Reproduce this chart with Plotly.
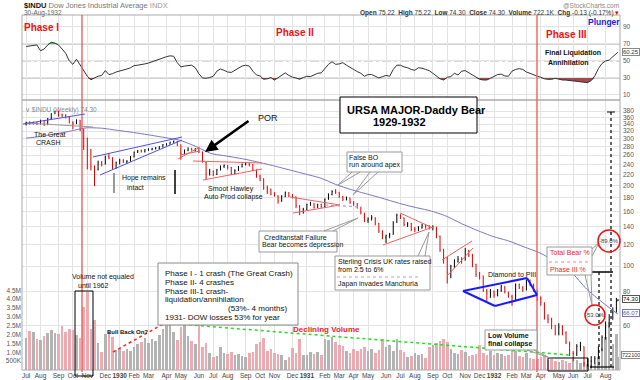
import math
import pandas as pd
import plotly.graph_objects as go

FONT = "Liberation Sans, Arial, sans-serif"
W, H = 640, 380

# ---------------- data ----------------
week_ends = list(pd.date_range("1929-07-06", "1932-08-27", freq="W-SAT")) + [pd.Timestamp("1932-08-30")]

close_1929 = [344, 342, 344, 341, 350, 338, 356, 372, 380, 370, 367, 360, 344, 341, 352, 323, 301, 273, 236, 229,
              245, 241, 257, 254, 232, 244]
high_1929 = [347, 348, 347, 346, 353, 352, 358, 373, 381, 381, 372, 370, 361, 348, 354, 352, 327, 302, 274, 238,
             248, 247, 259, 263, 255, 246]
low_1929 = [336, 338, 339, 337, 339, 335, 338, 355, 370, 362, 361, 357, 342, 325, 340, 320, 272, 230, 228, 199,
            228, 236, 240, 251, 230, 231]

close_1930 = [249, 245, 247, 256, 267, 270, 268, 272, 273, 275, 276, 279, 285, 286, 291, 293, 284, 263, 271, 275,
              272, 275, 267, 245, 222, 226, 220, 229, 236, 238, 234, 222, 228, 235, 240, 241, 240, 229, 216, 212,
              196, 193, 186, 183, 175, 182, 188, 183, 182, 168, 160, 163]
high_1930 = [252, 251, 249, 258, 268, 272, 273, 274, 276, 277, 279, 281, 286, 288, 292, 295, 294, 285, 273, 278,
             277, 276, 276, 268, 246, 231, 228, 231, 238, 240, 239, 235, 230, 237, 242, 245, 244, 241, 230, 220,
             213, 200, 195, 189, 184, 184, 190, 189, 186, 182, 169, 165]
low_1930 = [240, 243, 242, 246, 255, 265, 266, 266, 270, 271, 273, 274, 278, 282, 285, 289, 281, 250, 262, 269,
            270, 268, 265, 244, 211, 218, 217, 219, 228, 233, 230, 219, 220, 227, 234, 238, 236, 227, 214, 208,
            193, 186, 184, 182, 171, 174, 181, 181, 179, 165, 155, 157]

close_1931 = [170, 172, 166, 170, 167, 178, 185, 190, 189, 182, 178, 180, 173, 171, 166, 158, 148, 150, 152, 144,
              135, 128, 130, 131, 146, 155, 152, 143, 144, 137, 137, 139, 142, 140, 139, 140, 129, 115, 107, 92,
              100, 104, 106, 105, 114, 110, 101, 93, 92, 81, 79, 80]
high_1931 = [171, 174, 172, 171, 171, 179, 187, 192, 194, 189, 183, 182, 180, 175, 172, 166, 158, 152, 155, 152,
             145, 136, 131, 133, 147, 157, 156, 152, 146, 145, 140, 141, 144, 143, 142, 142, 140, 130, 116, 108,
             101, 106, 109, 108, 117, 115, 111, 102, 95, 92, 82, 82]
low_1931 = [162, 168, 164, 165, 165, 166, 177, 184, 186, 180, 175, 176, 171, 168, 164, 156, 146, 145, 148, 142,
            133, 126, 122, 127, 131, 145, 150, 141, 140, 135, 134, 135, 138, 138, 137, 136, 127, 113, 102, 86,
            90, 98, 103, 102, 105, 108, 99, 91, 89, 80, 74, 76]

close_1932 = [78, 81, 84, 80, 77, 74, 85, 83, 82, 88, 85, 81, 76, 73, 64, 63, 60, 56, 59, 56,
              52, 47, 47, 50, 50, 43, 44, 44, 45, 49, 54, 59, 63, 67, 74, 74.3]
high_1932 = [81, 82, 85, 84, 80, 78, 86, 86, 84, 89, 89, 86, 81, 77, 73, 66, 64, 60, 61, 60,
             57, 52, 48, 51, 52, 50, 45, 46, 46, 50, 55, 62, 66, 70, 76, 75.22]
low_1932 = [76, 77, 80, 79, 76, 71, 74, 82, 80, 81, 84, 80, 74, 71, 63, 61, 58, 55, 55, 55,
            51, 46, 44, 46, 48, 42, 42, 41.5, 43, 45, 48, 53, 59, 63, 67, 74.0]

first_open = 340

volume_m = [1.81, 2.19, 2.15, 1.77, 1.68, 1.90, 2.09, 2.25, 2.11, 2.06,
            2.47, 2.15, 2.30, 2.25, 1.96, 1.83, 3.57, 4.42, 2.34, 2.85,
            1.53, 1.02, 2.06, 2.25, 1.87, 1.15, 1.21, 1.05, 1.21, 1.10,
            1.30, 1.45, 1.60, 1.80, 1.55, 1.75, 1.65, 2.00, 2.30, 2.80,
            2.55, 2.15, 1.70, 2.45, 2.55, 1.90, 1.65, 1.45, 2.60, 1.30,
            1.55, 0.95, 0.75, 0.80, 1.30, 0.95, 0.90, 1.00, 0.85, 0.90,
            0.80, 0.75, 0.95, 1.00, 1.45, 1.60, 1.80, 1.10, 1.20, 0.95,
            0.90, 0.85, 0.55, 0.75, 1.25, 0.95, 1.75, 0.85, 0.85, 1.00,
            0.90, 1.00, 0.85, 1.75, 1.70, 1.85, 1.60, 1.40, 1.35, 1.05,
            0.95, 1.20, 1.10, 1.20, 1.30, 1.05, 1.20, 0.95, 1.15, 1.75,
            1.30, 1.40, 1.05, 1.75, 1.15, 1.00, 0.75, 0.80, 0.95, 0.85,
            0.90, 0.70, 1.30, 1.40, 1.55, 1.65, 1.75, 1.60, 1.20, 0.95,
            0.90, 1.15, 1.00, 0.80, 0.85, 0.90, 1.40, 0.95, 0.85, 1.10,
            0.85, 0.95, 0.90, 0.80, 0.85, 1.20, 1.05, 0.80, 0.75, 0.95,
            0.70, 0.65, 0.60, 0.75, 0.85, 0.55, 0.60, 0.50, 0.45, 0.55,
            0.50, 0.40, 0.65, 0.55, 0.40, 0.45, 0.35, 0.30, 0.40, 0.75,
            1.20, 1.85, 2.70, 1.45, 2.05, 0.72]

rsi = [67, 67.6, 68, 68.8, 62, 64, 68.8, 72, 71, 68.8,
       64, 59, 50, 46, 52, 45, 38, 32, 28, 30,
       32, 33, 38.6, 34, 35, 37, 38, 39, 40.5, 42,
       44.5, 45, 45.5, 46.5, 47.5, 49, 50.5, 52.5, 54, 55,
       56, 55.5, 48, 43, 44, 44.5, 45, 42, 35, 30,
       29.6, 30.5, 32, 38, 40.6, 39, 37, 36.5, 39, 41.5,
       44, 45, 44, 38, 33.5, 32.4, 28.5, 29, 30.5, 27.5,
       30, 33, 36, 33, 31, 30, 28.5, 30.5, 32, 31.6,
       34, 35.5, 36, 41, 46, 49, 46, 46.5, 48, 45,
       42, 40, 37.5, 35.5, 32, 34, 34, 32.4, 30, 31.5,
       33, 32, 40, 45, 45, 43, 42, 40, 39, 42,
       41.5, 40, 38.6, 35.5, 32, 29, 27.6, 30.8, 31.6, 35.5,
       33.5, 38, 38.6, 36, 33, 30.4, 28.5, 27.6, 27.6, 29.6,
       32, 34, 34.5, 32.4, 32, 38, 40, 41, 40, 37,
       35.5, 33.5, 32, 30.8, 29, 28.4, 28.4, 29.6, 28.5, 27.6,
       27.5, 26.9, 26.9, 26, 25.7, 25, 24.5, 27, 32.4, 41,
       47, 50, 51, 55, 58, 60.25]

ma_dates = ["1929-07-06", "1929-07-31", "1929-08-31", "1929-09-30", "1929-10-31", "1929-11-30", "1929-12-31",
            "1930-01-31", "1930-02-28", "1930-03-31", "1930-04-30", "1930-05-31", "1930-06-30", "1930-07-31",
            "1930-08-31", "1930-09-30", "1930-10-31", "1930-11-30", "1930-12-31", "1931-01-31", "1931-02-28",
            "1931-03-31", "1931-04-30", "1931-05-31", "1931-06-30", "1931-07-31", "1931-08-31", "1931-09-30",
            "1931-10-31", "1931-11-30", "1931-12-31", "1932-01-31", "1932-02-29", "1932-03-31", "1932-04-30",
            "1932-05-31", "1932-06-30", "1932-07-31", "1932-08-30"]
ma_values = [301, 305, 312, 320, 329, 328, 322,
             316, 310, 303, 296, 281, 264, 258,
             252, 245, 237, 229, 221, 213, 202,
             193, 186, 179, 172, 166, 161, 154,
             144, 136, 129, 124, 118, 112, 104,
             95, 82, 73, 66.07]

price_ticks = [60, 80, 100, 120, 140, 160, 180, 200, 220, 240, 260, 280, 300, 320, 340, 360, 380]
rsi_ticks = [10, 30, 50, 70, 90]
vol_ticks = [0.5, 1.0, 1.5, 2.0, 2.5, 3.0, 3.5, 4.0, 4.5]
vol_tick_labels = ["500K", "1.0M", "1.5M", "2.0M", "2.5M", "3.0M", "3.5M", "4.0M", "4.5M"]

# ---------------- derived ----------------
close = close_1929 + close_1930 + close_1931 + close_1932
high = high_1929 + high_1930 + high_1931 + high_1932
low = low_1929 + low_1930 + low_1931 + low_1932
open_ = [first_open] + close[:-1]
n = len(close)
up = [c >= o for c, o in zip(close, open_)]
vol_colors = ["#b3b3b3" if u else "#eeaab1" for u in up]

month_first = []
seen = set()
for d in week_ends:
    k = (d.year, d.month)
    if k not in seen:
        seen.add(k)
        month_first.append(d)
ticktext = ["<b>%d</b>" % d.year if d.month == 1 else d.strftime("%b") for d in month_first]

# geometry (pixels)
PL, PR = 22, 620
RSI_TOP, SPLIT, PRICE_BOT = 15, 100, 370

# ---------------- figure ----------------
fig = go.Figure()
fig.add_trace(go.Bar(x=week_ends, y=volume_m, marker=dict(color=vol_colors, line=dict(width=0)),
                     width=5.0 * 86400000, xaxis="x", yaxis="y"))
fig.add_trace(go.Scatter(x=ma_dates, y=ma_values, mode="lines",
                         line=dict(color="#7474c4", width=1, shape="spline", smoothing=0.6),
                         xaxis="x", yaxis="y3"))
fig.add_trace(go.Ohlc(x=week_ends, open=open_, high=high, low=low, close=close,
                      increasing=dict(line=dict(color="#000000", width=1)),
                      decreasing=dict(line=dict(color="#e00000", width=1)),
                      tickwidth=0.3, xaxis="x", yaxis="y3"))
fig.add_trace(go.Scatter(x=week_ends, y=[70] * n, mode="lines", line=dict(width=0), xaxis="x", yaxis="y2"))
fig.add_trace(go.Scatter(x=week_ends, y=[max(v, 70) for v in rsi], mode="lines", line=dict(width=0),
                         fill="tonexty", fillcolor="#3fcf3f", xaxis="x", yaxis="y2"))
fig.add_trace(go.Scatter(x=week_ends, y=[30] * n, mode="lines", line=dict(width=0), xaxis="x", yaxis="y2"))
fig.add_trace(go.Scatter(x=week_ends, y=[min(v, 30) for v in rsi], mode="lines", line=dict(width=0),
                         fill="tonexty", fillcolor="#a34a4a", xaxis="x", yaxis="y2"))
fig.add_trace(go.Scatter(x=week_ends, y=rsi, mode="lines", line=dict(color="#333333", width=1),
                         xaxis="x", yaxis="y2"))

# ---------------- annotations / drawings ----------------
def px(x):
    return x / W


def py(y):
    return 1 - y / H


shapes = []
anns = []


def seg(x0, y0, x1, y1, color, width=1, dash="solid"):
    shapes.append(dict(type="line", xref="paper", yref="paper", x0=px(x0), y0=py(y0), x1=px(x1), y1=py(y1),
                       line=dict(color=color, width=width, dash=dash), layer="above"))


def rect(x0, y0, x1, y1, color, width=1, fill="rgba(0,0,0,0)"):
    shapes.append(dict(type="rect", xref="paper", yref="paper", x0=px(x0), y0=py(y1), x1=px(x1), y1=py(y0),
                       line=dict(color=color, width=width), fillcolor=fill, layer="above"))


def circ(cx, cy, r, color, width=1.5):
    shapes.append(dict(type="circle", xref="paper", yref="paper", x0=px(cx - r), y0=py(cy + r), x1=px(cx + r),
                       y1=py(cy - r), line=dict(color=color, width=width), layer="above"))


def txt(x, y, text, size=7, color="#111111", bold=False, anchor="left", **kw):
    kw.setdefault("borderpad", 0)
    anns.append(dict(xref="paper", yref="paper", x=px(x), y=py(y), text=("<b>%s</b>" % text) if bold else text,
                     showarrow=False, xanchor=anchor, yanchor="middle",
                     font=dict(size=size, color=color, family=FONT), **kw))


# RSI reference lines
for lvl, dash, col in [(70, "solid", "#999999"), (30, "solid", "#999999"), (50, "dashdot", "#aaaaaa")]:
    shapes.append(dict(type="line", xref="paper", yref="y2", x0=px(PL), x1=px(PR), y0=lvl, y1=lvl,
                       line=dict(color=col, width=1, dash=dash), layer="below"))

# panel borders
rect(PL, RSI_TOP, PR, SPLIT, "#aaaaaa")
rect(PL, SPLIT, PR, PRICE_BOT, "#aaaaaa")

# phase lines
seg(82, 15, 82, 372, "rgba(240,90,90,0.85)", 1.6)
seg(537, 15, 537, 372, "rgba(240,90,90,0.85)", 1.6)

# pattern lines
seg(27, 123, 93, 127, "#999999", 1)
seg(23, 124, 85, 114, "#5050e0", 1)
seg(93, 157, 182, 137, "#5050e0", 1)
seg(100, 175, 182, 140, "#5050e0", 1)
seg(178, 159, 200, 147, "#f06060", 1)
seg(180, 155, 200, 151, "#f06060", 1)
seg(193, 161, 262, 163, "#f06060", 1)
seg(203, 180, 262, 169, "#f06060", 1)
seg(290, 197, 340, 205, "#f06060", 1)
seg(293, 213, 340, 205, "#f06060", 1)
seg(325, 205, 362, 207, "#a0a0ee", 1.2, "dot")
seg(400, 213, 433, 228, "#f06060", 1)
seg(383, 245, 433, 227, "#f06060", 1)
seg(442, 260, 472, 241, "#f06060", 1)
seg(447, 276, 473, 248, "#f06060", 1)
# diamond
seg(463, 291, 527, 278, "#1a1aff", 2)
seg(527, 278, 537, 295, "#1a1aff", 2)
seg(537, 295, 495, 306, "#1a1aff", 2)
seg(495, 306, 463, 291, "#1a1aff", 2)

# hope remains markers
seg(114, 173, 114, 193, "#999999", 2)
seg(175, 170, 175, 194, "#000000", 1.5)

# volume annotations
seg(113, 352, 165, 323, "#ff2020", 1.5, "dot")
seg(165, 323, 570, 355, "#22dd22", 1.5, "dot")
rect(75, 291, 93, 376, "#000000", 1)
rect(548, 358, 588, 371, "#000000", 1)

# range markers
seg(611, 112, 611, 368, "#000000", 1.2, "dot")
seg(607, 112, 615, 112, "#000000", 1)
seg(599, 272, 599, 367, "#000000", 1.2, "dot")
seg(591, 272, 613, 272, "#000000", 1.5)
seg(590, 367, 614, 367, "#000000", 1.2)

# callout boxes
rect(158, 263, 298, 325, "#8a8a8a", 1, "white")
rect(340, 97, 477, 133, "#000000", 1, "white")
rect(259, 231, 337, 252, "#999999", 1, "white")
seg(324, 231, 358, 218, "#999999", 1)
seg(333, 231, 358, 218, "#999999", 1)
rect(347, 152, 402, 172, "#999999", 1, "white")
seg(352, 172, 338, 185, "#999999", 1)
seg(360, 172, 338, 185, "#999999", 1)
seg(370, 172, 353, 195, "#999999", 1)
seg(378, 172, 353, 195, "#999999", 1)
rect(335, 256, 430, 290, "#999999", 1, "white")
seg(337, 277, 420, 277, "#aaaaaa", 1, "dot")
seg(418, 256, 429, 232, "#999999", 1)
seg(425, 256, 429, 232, "#999999", 1)
rect(547, 247, 592, 275, "#999999", 1, "white")
seg(549, 262, 588, 262, "#ff8080", 1, "dot")
seg(592, 249, 599, 243, "#999999", 1)
seg(592, 256, 599, 243, "#999999", 1)
seg(585, 275, 592, 305, "#999999", 1)
seg(591, 275, 592, 305, "#999999", 1)
rect(485, 330, 537, 350, "#999999", 1, "white")
seg(527, 350, 550, 358, "#999999", 1)
seg(534, 350, 550, 358, "#999999", 1)
circ(609, 241, 11, "#ee1111")
circ(595, 315, 10, "#ee1111")

# texts
txt(23, 5, "<b>$INDU</b> <span style='color:#777'>Dow Jones Industrial Average</span> <span style='color:#999'>INDX</span>", 7.5)
txt(23, 12.5, "30-Aug-1932", 6.5, "#666666")
txt(620, 5, "@StockCharts.com", 6.5, "#888888", anchor="right")
txt(620, 12.5, "<b>Open</b> 75.22  <b>High</b> 75.22  <b>Low</b> 74.30  <b>Close</b> 74.30  <b>Volume</b> 722.1K  <b>Chg</b> -0.13 (-0.17%) <span style='color:#e00000'>▾</span>", 6.5, "#333333", anchor="right")
txt(23, 27, "Phase I", 10, "#ee1111", True)
txt(275, 32, "Phase II", 10, "#ee1111", True)
txt(545, 34, "Phase III", 10, "#ee1111", True)
txt(587, 22, "Plunger", 8.5, "#2222dd", True)
txt(544, 53, "Final Liquidation", 7, "#111111", True)
txt(547, 62, "Annihilation", 7, "#111111", True)
txt(24, 110, "∨ $INDU (Weekly) 74.30", 6.5, "#888888")
txt(33, 134, "The Great", 7)
txt(35, 142, "CRASH", 7)
txt(257, 118, "POR", 9)
anns.append(dict(xref="paper", yref="paper", x=px(205), y=py(152), ax=45, ay=-32, axref="pixel", ayref="pixel",
                 text="", showarrow=True, arrowhead=2, arrowsize=1, arrowwidth=2.5, arrowcolor="#000000"))
txt(121, 178, "Hope remains", 7)
txt(126, 187, "intact", 7)
txt(207, 189, "Smoot Hawley", 7)
txt(203, 197, "Auto Prod collapse", 7)
txt(263, 237, "Creditanstalt Failure", 7)
txt(261, 245, "Bear becomes depression", 7)
txt(348, 157, "False BO", 7)
txt(348, 165, "run around apex", 7)
txt(346, 110, "URSA MAJOR-Daddy Bear", 11, "#000000", True)
txt(372, 122, "1929-1932", 11, "#000000", True)
txt(337, 262, "Sterling Crisis UK rates raised", 7)
txt(337, 269.5, "from 2.5 to 6%", 7)
txt(337, 284, "Japan invades Manchuria", 7)
txt(487, 274, "Diamond to PIII", 7)
txt(549, 253, "Total Bear %", 7, "#ee2222")
txt(549, 269, "Phase III %", 7, "#ee2222")
txt(609, 241, "-89.0%", 6, "#444444", anchor="center")
txt(595, 315, "-53.0%", 6, "#444444", anchor="center")
txt(71, 277, "Volume not equaled", 7)
txt(77, 285, "until 1962", 7)
txt(106, 332, "Bull Back On?", 6, "#111111", True)
txt(292, 329, "Declining Volume", 8, "#ee2222", True)
txt(487, 335, "Low Volume", 7, "#111111", True)
txt(487, 344, "final collapse", 7, "#111111", True)
txt(164, 273, "Phase I - 1 crash (The Great Crash)", 8)
txt(164, 282, "Phase II- 4 crashes", 8)
txt(164, 291, "Phase III-1 crash-", 8)
txt(164, 299.5, "liquidation/annihilation", 8)
txt(227, 308, "(53%- 4 months)", 8)
txt(164, 317, "1931- DOW losses 53% for year", 8)

# value boxes on the right
txt(622, 52, "60.25", 6, "#333333", bordercolor="#888888", borderwidth=1, bgcolor="white")
txt(622, 299, "74.30", 6, "#111111", bordercolor="#555555", borderwidth=1, bgcolor="white")
txt(622, 313, "66.07", 6, "#5555aa", bordercolor="#7474c4", borderwidth=1, bgcolor="white")
txt(621, 355, "722100", 5.5, "#333333", bordercolor="#888888", borderwidth=1, bgcolor="white")

tickfont = dict(size=6.5, color="#555555", family=FONT)
fig.update_layout(
    width=W, height=H, margin=dict(l=0, r=0, t=0, b=0, autoexpand=False),
    paper_bgcolor="white", plot_bgcolor="white", showlegend=False, hovermode=False,
    bargap=0,
    xaxis=dict(domain=[PL / W, PR / W], type="date", range=["1929-06-28", "1932-09-03"], anchor="y",
               tickmode="array", tickvals=month_first, ticktext=ticktext,
               tickfont=dict(size=6.5, color="#444444", family=FONT),
               ticks="", ticklen=0, ticklabelstandoff=0, showgrid=True, gridcolor="#e3e3e3", gridwidth=1,
               zeroline=False, showline=False, rangeslider=dict(visible=False), tickangle=0, automargin=False),
    yaxis=dict(domain=[1 - PRICE_BOT / H, 1 - SPLIT / H], range=[0, (PRICE_BOT - SPLIT) / 17.7], side="left",
               anchor="x", tickmode="array", tickvals=vol_ticks, ticktext=vol_tick_labels, tickfont=tickfont,
               showgrid=False, zeroline=False, ticks="", ticklen=0, automargin=False),
    yaxis2=dict(domain=[1 - SPLIT / H, 1 - RSI_TOP / H], range=[4.1, 104], side="right", anchor="x",
                tickmode="array", tickvals=rsi_ticks, tickfont=tickfont, showgrid=True, gridcolor="#e3e3e3",
                zeroline=False, ticks="", ticklen=0, ticklabelstandoff=2, automargin=False),
    yaxis3=dict(overlaying="y", type="log",
                range=[math.log10(100 * math.exp(-(PRICE_BOT - 266) / 116)), math.log10(100 * math.exp((266 - SPLIT) / 116))],
                side="right", anchor="x", tickmode="array", tickvals=price_ticks,
                ticktext=[str(v) for v in price_ticks], tickfont=tickfont, showgrid=True, gridcolor="#e3e3e3",
                zeroline=False, ticks="", ticklen=0, ticklabelstandoff=2, automargin=False),
    shapes=shapes, annotations=anns,
)

fig.write_html("out.html", config={"displayModeBar": False},
               post_script="document.body.style.margin='0';document.body.style.padding='0';"
                           "document.documentElement.style.margin='0';document.body.style.overflow='hidden';")
